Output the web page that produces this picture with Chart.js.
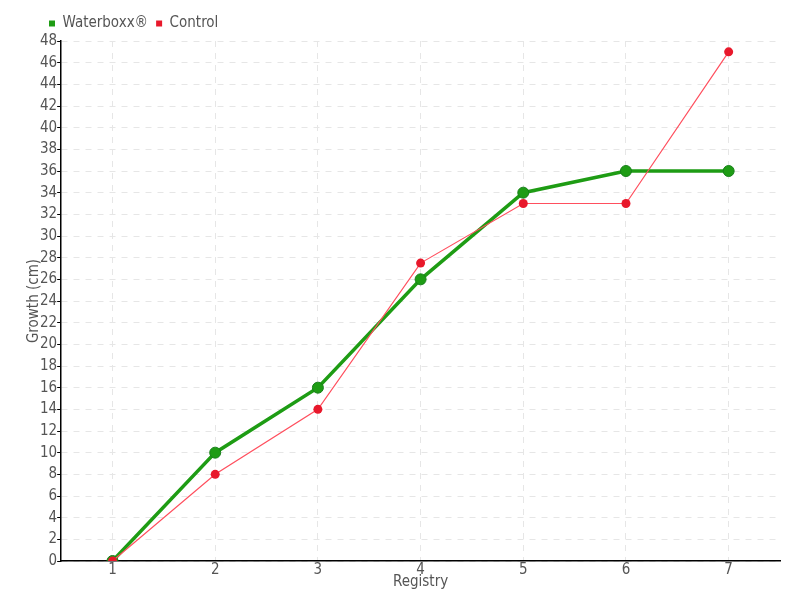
<!DOCTYPE html>
<html>
<head>
<meta charset="utf-8">
<script src="https://cdn.jsdelivr.net/npm/chart.js@4"></script>
<style>
  html, body { margin: 0; padding: 0; background: #fff; }
  #wrap { width: 800px; height: 600px; }
</style>
</head>
<body>
<div id="wrap"><canvas id="myChart"></canvas></div>
<script>
const registry = ["1", "2", "3", "4", "5", "6", "7"];
const waterboxx = [0, 10, 16, 26, 34, 36, 36];
const control = [0, 8, 14, 27.5, 33, 33, 47];

Chart.defaults.font.family = "'Liberation Sans Narrow', 'DejaVu Sans Condensed', 'DejaVu Sans', sans-serif";
Chart.defaults.color = "#555";

// nudge the legend to the right, like the original
const legendShift = {
  id: "legendShift",
  afterLayout(chart) {
    chart.legend.left += 16;
    chart.legend.right += 16;
  },
};

const config = {
  type: "line",
  data: {
    labels: registry,
    datasets: [
      {
        label: "Waterboxx®",
        data: waterboxx,
        borderColor: "#1e9c14",
        backgroundColor: "#1e9c14",
        borderWidth: 3.5,
        pointRadius: 5.5,
        pointBackgroundColor: "#1e9c14",
        pointBorderColor: "#17801a",
        pointBorderWidth: 1,
        tension: 0,
        order: 1,
      },
      {
        label: "Control",
        data: control,
        borderColor: "#ff4f5e",
        backgroundColor: "#e8182b",
        borderWidth: 1.2,
        pointRadius: 4.5,
        pointBackgroundColor: "#e8182b",
        pointBorderColor: "#e8182b",
        pointBorderWidth: 0,
        tension: 0,
        order: 0,
      },
    ],
  },
  options: {
    responsive: true,
    maintainAspectRatio: false,
    animation: false,
    plugins: {
      legend: {
        position: "top",
        align: "start",
        labels: {
          boxWidth: 6,
          boxHeight: 6,
          padding: 8,
          font: { size: 15 },
          color: "#555",
          sort: (a, b) => a.datasetIndex - b.datasetIndex,
          generateLabels: (chart) => {
            const items = Chart.defaults.plugins.legend.labels.generateLabels(chart);
            items.forEach((it) => {
              it.lineWidth = 0;
              it.strokeStyle = it.fillStyle;
            });
            return items;
          },
        },
      },
      tooltip: { enabled: false },
    },
    layout: {
      padding: { left: 25, right: 20, top: 8, bottom: 9 },
    },
    scales: {
      x: {
        offset: true,
        grid: {
          offset: false,
          color: "#e6e6e6",
          tickLength: 0,
        },
        border: { color: "#000", width: 1.5, dash: [6, 6] },
        ticks: { font: { size: 15 }, color: "#555", padding: 0 },
        title: {
          display: true,
          text: "Registry",
          font: { size: 15 },
          color: "#555",
          padding: { top: -6, bottom: 0 },
        },
      },
      y: {
        min: 0,
        max: 48,
        grid: {
          color: "#e6e6e6",
          tickColor: "#000",
          tickLength: 4,
        },
        border: { color: "#000", width: 1.5, dash: [6, 6] },
        ticks: { stepSize: 2, font: { size: 15 }, color: "#555", padding: 0 },
        title: {
          display: true,
          text: "Growth (cm)",
          font: { size: 15 },
          color: "#555",
          padding: { top: 0, bottom: -3 },
        },
      },
    },
  },
  plugins: [legendShift],
};
const newChart = new Chart("myChart", config);
</script>
</body>
</html>
